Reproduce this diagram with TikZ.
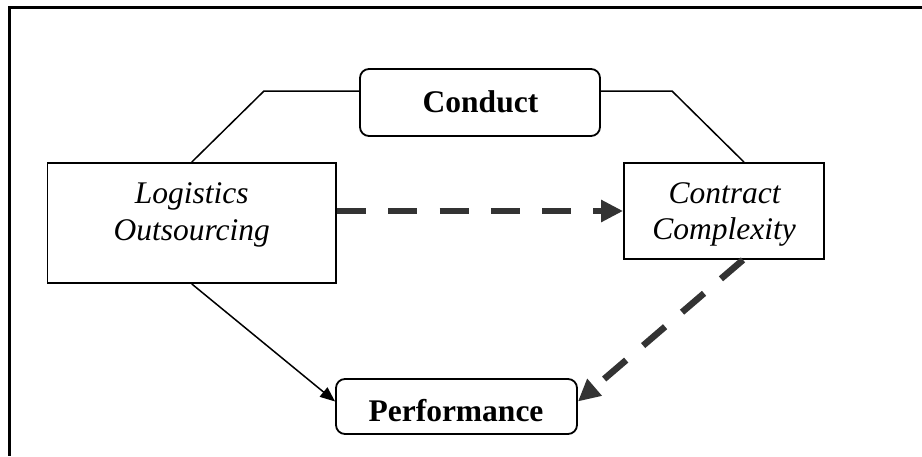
\documentclass[tikz,border=0pt]{standalone}
\usepackage{fontspec}
\setmainfont{Liberation Serif}
\usetikzlibrary{arrows.meta}
\begin{document}
\begin{tikzpicture}[x=1pt,y=-1pt,
  box/.style={draw, line width=1.8pt, inner sep=0pt},
  rbox/.style={box, rounded corners=9pt},
  itxt/.style={inner sep=0pt, anchor=base, font=\fontsize{31.5}{36}\selectfont\itshape},
  btxt/.style={inner sep=0pt, anchor=base, font=\fontsize{31.5}{36}\selectfont\bfseries},
  link/.style={line width=1.5pt},
  solidarrow/.style={link, -{Triangle[length=15pt,width=12pt]}},
  dasharrow/.style={draw=black!80, line width=6.5pt, dash pattern=on 29pt off 22.3pt,
                    -{Triangle[length=22pt,width=21pt]}}]
  \useasboundingbox (0,0) rectangle (922,456);

  % outer frame (open to the right and bottom)
  \draw[line width=2.2pt] (922,7.5) -- (9.5,7.5) -- (9.5,456);

  % boxes
  \node[box, minimum width=288.5pt, minimum height=120pt] (lo) at (191.75,223) {};
  \node[box, minimum width=200pt, minimum height=96pt] (cc) at (724,211) {};
  \node[rbox, minimum width=240pt, minimum height=67pt] (cd) at (480,102.5) {};
  \node[rbox, minimum width=241pt, minimum height=55pt] (pf) at (456.5,406.5) {};

  % labels
  \node[itxt] (lo1) at (191.75,203.3) {Logistics};
  \node[itxt] (lo2) at (191.75,240) {Outsourcing};
  \node[itxt] (cc1) at (724.5,203) {Contract};
  \node[itxt] (cc2) at (724,239.5) {Complexity};
  \node[btxt] (cd1) at (480.5,112) {Conduct};
  \node[btxt] (pf1) at (456,421.5) {Performance};

  % conduct bracket
  \coordinate (kL) at (264,91);
  \coordinate (kR) at (672,91);
  \draw[link] (lo.north) -- (kL) -- (kL -| cd.west);
  \draw[link] (kR -| cd.east) -- (kR) -- ([xshift=20pt]cc.north);

  % arrows
  \draw[solidarrow] (lo.south) -- ([yshift=5pt]pf.west);
  \draw[dasharrow] (lo.east |- cc.west) -- (cc.west);
  \draw[dasharrow] ([xshift=19pt]cc.south) -- ([yshift=5pt]pf.east);
\end{tikzpicture}
\end{document}
